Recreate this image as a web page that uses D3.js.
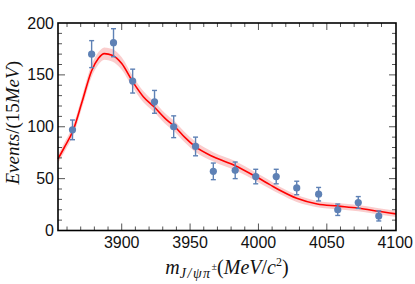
<!DOCTYPE html>
<html lang="en">
<head>
<meta charset="UTF-8">
<title>J/psi pi mass fit</title>
<style>
  body { margin: 0; background: #fff; }
  svg { display: block; }
  .tick-label { font-family: "Liberation Sans", Arial, sans-serif; font-size: 16px; fill: #111; }
  .math { font-family: "Liberation Serif", "Times New Roman", serif; fill: #111; }
</style>
</head>
<body>
<svg id="chart"></svg>
<script src="https://d3js.org/d3.v7.min.js"></script>
<script>
// data points (bin centres, events, errors)
const binMass = [3864, 3878, 3894, 3908, 3924, 3938, 3954, 3967, 3983, 3998, 4013, 4028, 4044, 4058, 4073, 4088];
const binEvents = [97, 170, 181, 144, 124, 100, 81, 57, 58, 52, 52, 41, 35, 20, 27, 14];
const binErr = [9.5, 13, 13.5, 11.5, 11, 10.5, 9, 8, 8, 7, 7, 6.5, 6.5, 5.5, 5.7, 4.8];

// fit curve and its uncertainty band
const fitMass = [3853.4, 3858, 3864.6, 3871, 3878, 3883, 3887.3, 3893, 3900, 3908, 3915.8, 3923.8, 3931.7, 3938.5, 3946, 3953.6, 3967, 3983, 3998, 4008, 4016, 4028, 4043, 4058, 4073, 4088, 4100.6];
const fitValue = [69, 80, 97, 124, 154, 166, 170.5, 169, 161, 143.5, 129, 119, 108, 100.5, 90, 81, 71, 62.5, 52, 44.5, 38.5, 31, 25.5, 23.5, 21.5, 18.5, 16];
const fitBand = [4, 4.5, 5, 5.5, 6, 6, 6, 6, 6, 5.5, 5.5, 5, 5, 5, 5, 5, 4.5, 4.5, 4, 4, 3.5, 3.5, 3, 3, 3, 3, 3];

const xTicks = [3900, 3950, 4000, 4050, 4100];
const yTicks = [0, 50, 100, 150, 200];

const width = 415, height = 284;
const margin = {top: 23, right: 19, bottom: 53.5, left: 58};

const svg = d3.select("#chart").attr("width", width).attr("height", height);

const x = d3.scaleLinear().domain([3853.4, 4100.6]).range([margin.left, width - margin.right]);
const y = d3.scaleLinear().domain([0, 200]).range([height - margin.bottom, margin.top]);

const fit = fitMass.map((m, i) => ({m: m, v: fitValue[i], e: fitBand[i]}));

// band
svg.append("path")
  .datum(fit)
  .attr("fill", "#f9c4c4")
  .attr("opacity", 0.85)
  .attr("d", d3.area().curve(d3.curveMonotoneX)
    .x(d => x(d.m)).y0(d => y(d.v - d.e)).y1(d => y(d.v + d.e)));

// fit line
svg.append("path")
  .datum(fit)
  .attr("fill", "none")
  .attr("stroke", "#ff0000")
  .attr("stroke-width", 1.6)
  .attr("d", d3.line().curve(d3.curveMonotoneX).x(d => x(d.m)).y(d => y(d.v)));

// points with error bars
const pts = binMass.map((m, i) => ({m: m, v: binEvents[i], e: binErr[i]}));
const ptColor = "#5e81b5";
const pg = svg.append("g").attr("stroke", ptColor).attr("stroke-width", 1.4);
pg.selectAll("line.bar").data(pts).join("line")
  .attr("x1", d => x(d.m)).attr("x2", d => x(d.m))
  .attr("y1", d => y(d.v - d.e)).attr("y2", d => y(d.v + d.e));
pg.selectAll("line.cap-hi").data(pts).join("line")
  .attr("x1", d => x(d.m) - 2.5).attr("x2", d => x(d.m) + 2.5)
  .attr("y1", d => y(d.v + d.e)).attr("y2", d => y(d.v + d.e));
pg.selectAll("line.cap-lo").data(pts).join("line")
  .attr("x1", d => x(d.m) - 2.5).attr("x2", d => x(d.m) + 2.5)
  .attr("y1", d => y(d.v - d.e)).attr("y2", d => y(d.v - d.e));
svg.append("g").selectAll("circle").data(pts).join("circle")
  .attr("cx", d => x(d.m)).attr("cy", d => y(d.v)).attr("r", 3.6)
  .attr("fill", ptColor);

// frame
const x0 = x.range()[0], x1 = x.range()[1], y0 = y.range()[0], y1 = y.range()[1];
const tickCol = "#555";
const ticks = svg.append("g").attr("stroke", tickCol).attr("stroke-width", 1);
const minorX = d3.range(3860, 4100, 10);
minorX.forEach(v => {
  const major = xTicks.includes(v);
  const len = major ? 7 : 4;
  ticks.append("line").attr("x1", x(v)).attr("x2", x(v)).attr("y1", y0).attr("y2", y0 - len);
  ticks.append("line").attr("x1", x(v)).attr("x2", x(v)).attr("y1", y1).attr("y2", y1 + len);
});
d3.range(10, 200, 10).forEach(v => {
  const major = yTicks.includes(v);
  const len = major ? 7 : 4;
  ticks.append("line").attr("x1", x0).attr("x2", x0 + len).attr("y1", y(v)).attr("y2", y(v));
  ticks.append("line").attr("x1", x1).attr("x2", x1 - len).attr("y1", y(v)).attr("y2", y(v));
});
svg.append("rect")
  .attr("x", x0).attr("y", y1).attr("width", x1 - x0).attr("height", y0 - y1)
  .attr("fill", "none").attr("stroke", "#000").attr("stroke-width", 1.6);

// tick labels
svg.append("g").selectAll("text").data(xTicks).join("text")
  .attr("class", "tick-label")
  .attr("x", d => x(d)).attr("y", y0 + 17)
  .attr("text-anchor", "middle")
  .text(d => d);
svg.append("g").selectAll("text").data(yTicks).join("text")
  .attr("class", "tick-label")
  .attr("x", x0 - 4).attr("y", d => y(d) + 5.5)
  .attr("text-anchor", "end")
  .text(d => d);

// axis titles
const yl = svg.append("text").attr("class", "math")
  .attr("transform", `translate(19, ${(y0 + y1) / 2 - 4}) rotate(-90)`)
  .attr("text-anchor", "middle").attr("font-size", 19);
yl.append("tspan").attr("font-style", "italic").text("Events");
yl.append("tspan").text("/(15");
yl.append("tspan").attr("font-style", "italic").text("MeV");
yl.append("tspan").text(")");

const xl = svg.append("text").attr("class", "math")
  .attr("x", 227).attr("y", 274)
  .attr("text-anchor", "middle").attr("font-size", 20);
xl.append("tspan").attr("font-style", "italic").text("m");
xl.append("tspan").attr("font-size", 14).attr("dy", 4).attr("font-style", "italic")
  .attr("letter-spacing", 1.5).text("J/ψπ");
xl.append("tspan").attr("font-size", 10).attr("dy", -8).text("±");
xl.append("tspan").attr("dy", 4).text("(");
xl.append("tspan").attr("font-style", "italic").text("MeV");
xl.append("tspan").text("/");
xl.append("tspan").attr("font-style", "italic").text("c");
xl.append("tspan").attr("font-size", 12).attr("dy", -8).text("2");
xl.append("tspan").attr("dy", 8).text(")");
</script>
</body>
</html>
